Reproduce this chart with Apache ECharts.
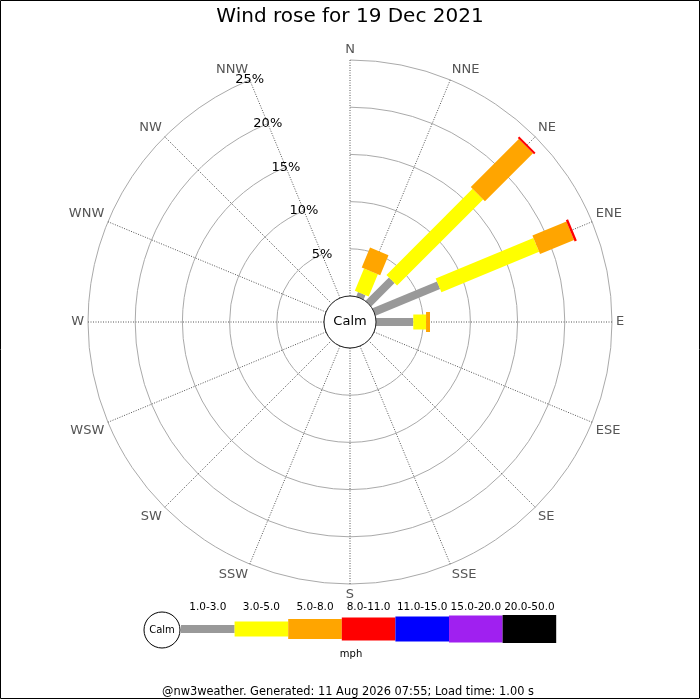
<!DOCTYPE html>
<html><head><meta charset="utf-8">
<script src="https://cdn.jsdelivr.net/npm/echarts@6/dist/echarts.min.js"></script>
<style>html,body{margin:0;padding:0;background:#fff}#c{width:700px;height:700px}</style>
</head><body><div id="c"></div>
<script>
// ---- data ----
const directions = ['N','NNE','NE','ENE','E','ESE','SE','SSE','S','SSW','SW','WSW','W','WNW','NW','NNW'];
const speedBands = ['1.0-3.0','3.0-5.0','5.0-8.0','8.0-11.0','11.0-15.0','15.0-20.0','20.0-50.0'];
const radialTicks = [0, 5, 10, 15, 20, 25];
// percent of the day, by direction (N..NNW), per speed band in mph
const band1to3   = [0, 0.5, 3.5, 7.4, 3.95, 0, 0, 0, 0, 0, 0, 0, 0, 0, 0, 0];
const band3to5   = [0, 2.55, 12.9, 11.2, 1.35, 0, 0, 0, 0, 0, 0, 0, 0, 0, 0, 0];
const band5to8   = [0, 2.3, 7.2, 3.9, 0.42, 0, 0, 0, 0, 0, 0, 0, 0, 0, 0, 0];
const band8to11  = [0, 0, 0.22, 0.25, 0, 0, 0, 0, 0, 0, 0, 0, 0, 0, 0, 0];
const band11to15 = [0, 0, 0, 0, 0, 0, 0, 0, 0, 0, 0, 0, 0, 0, 0, 0];
const band15to20 = [0, 0, 0, 0, 0, 0, 0, 0, 0, 0, 0, 0, 0, 0, 0, 0];
const band20to50 = [0, 0, 0, 0, 0, 0, 0, 0, 0, 0, 0, 0, 0, 0, 0, 0];
const titleText = 'Wind rose for 19 Dec 2021';
const unitText = 'mph';
const footerText = '@nw3weather. Generated: 11 Aug 2026 07:55; Load time: 1.00 s';

// ---- styles ----
const bandValues = [band1to3, band3to5, band5to8, band8to11, band11to15, band15to20, band20to50];
const bandColors = ['#999999', '#ffff00', '#ffa500', '#ff0000', '#0000ff', '#a020f0', '#000000'];
const bandWidths = [8, 15, 20, 23, 25, 27, 28];
const FONT = 'DejaVu Sans';
const CX = 350, CY = 322, R_IN = 26, R_OUT = 262;
const RMAX = radialTicks[radialTicks.length - 1];
const RSTEP = radialTicks[1] - radialTicks[0];

function makeRenderer(width, color) {
  return function (params, api) {
    const dir = api.value(0), r0 = api.value(1), r1 = api.value(2);
    const a = api.coord([r0, dir]);
    const b = api.coord([r1, dir]);
    const o = api.coord([0, dir]);
    const f = api.coord([RMAX, dir]);
    let ux = f[0] - o[0], uy = f[1] - o[1];
    const L = Math.hypot(ux, uy); ux /= L; uy /= L;
    const nx = -uy * width / 2, ny = ux * width / 2;
    return {
      type: 'polygon',
      shape: { points: [[a[0] + nx, a[1] + ny], [b[0] + nx, b[1] + ny], [b[0] - nx, b[1] - ny], [a[0] - nx, a[1] - ny]] },
      style: { fill: color }
    };
  };
}

const series = bandValues.map(function (vals, bi) {
  const data = [];
  vals.forEach(function (v, i) {
    let start = 0;
    for (let k = 0; k < bi; k++) start += bandValues[k][i];
    if (v > 0) data.push([i, start, start + v]);
  });
  return {
    type: 'custom', name: speedBands[bi], coordinateSystem: 'polar', polarIndex: 0,
    encode: { angle: 0, radius: [1, 2] },
    renderItem: makeRenderer(bandWidths[bi], bandColors[bi]),
    data: data, z: 3 + bi, silent: true
  };
});

// legend key (built from band arrays)
const legendEls = [];
const LX0 = 181, LW = 53.6, LY = 629;
speedBands.forEach(function (lab, i) {
  const h = bandWidths[i];
  legendEls.push({ type: 'rect', shape: { x: LX0 + i * LW, y: LY - h / 2, width: LW, height: h }, style: { fill: bandColors[i] }, z: 100 });
  legendEls.push({ type: 'text', x: LX0 + i * LW + LW / 2, y: 607, style: { text: lab, fill: '#000', font: '10.5px "' + FONT + '"', align: 'center', verticalAlign: 'middle' }, z: 100 });
});
legendEls.push({ type: 'circle', shape: { cx: 162, cy: 630, r: 18 }, style: { fill: '#fff', stroke: '#000', lineWidth: 1 }, z: 101 });
legendEls.push({ type: 'text', x: 162, y: 630, style: { text: 'Calm', fill: '#000', font: '10px "' + FONT + '"', align: 'center', verticalAlign: 'middle' }, z: 102 });
legendEls.push({ type: 'text', x: 351, y: 654, style: { text: unitText, fill: '#000', font: '10px "' + FONT + '"', align: 'center', verticalAlign: 'middle' }, z: 100 });

const chart = echarts.init(document.getElementById('c'), null, { renderer: 'canvas' });
chart.setOption({
  backgroundColor: '#fff',
  animation: false,
  textStyle: { fontFamily: FONT },
  polar: [
    { center: [CX, CY], radius: [R_IN, R_OUT] },
    { center: [CX, CY], radius: [R_IN, R_OUT] }
  ],
  angleAxis: [
    {
      polarIndex: 0, type: 'category', data: directions, startAngle: 90, clockwise: true, boundaryGap: false,
      axisLine: { show: false }, axisTick: { show: false },
      axisLabel: { show: true, color: '#555', fontSize: 13, margin: 4, fontFamily: FONT },
      splitLine: { show: true, lineStyle: { color: '#555', width: 1, type: [1, 1.5] } },
      splitArea: { show: false }
    },
    {
      polarIndex: 1, type: 'value', min: 0, max: 360, startAngle: 112.5, show: false
    }
  ],
  radiusAxis: [
    {
      polarIndex: 0, type: 'value', min: 0, max: RMAX, interval: RSTEP,
      axisLine: { show: false }, axisTick: { show: false }, axisLabel: { show: false },
      splitLine: { show: true, lineStyle: { color: '#aaa', width: 1 } }
    },
    {
      polarIndex: 1, type: 'value', min: 0, max: RMAX, interval: RSTEP,
      axisLine: { show: false }, axisTick: { show: false }, splitLine: { show: false },
      axisLabel: {
        show: true, margin: 0, align: 'center', verticalAlign: 'middle', color: '#000', fontSize: 13, fontFamily: FONT,
        formatter: function (v) { return v === 0 ? '' : v + '%'; }
      },
      z: 50
    }
  ],
  series: series,
  graphic: { elements: [
    { type: 'rect', shape: { x: 0.5, y: 0.5, width: 699, height: 698 }, style: { fill: 'none', stroke: '#000', lineWidth: 1 }, z: 200, silent: true },
    { type: 'text', x: 350, y: 17, style: { text: titleText, fill: '#000', font: '20px "' + FONT + '"', align: 'center', verticalAlign: 'middle' }, z: 100 },
    { type: 'circle', shape: { cx: CX, cy: CY, r: R_IN }, style: { fill: '#fff', stroke: '#222', lineWidth: 1 }, z: 100 },
    { type: 'text', x: CX, y: CY, style: { text: 'Calm', fill: '#000', font: '13px "' + FONT + '"', align: 'center', verticalAlign: 'middle' }, z: 101 },
    { type: 'text', x: 348, y: 692, style: { text: footerText, fill: '#000', font: '11.4px "' + FONT + '"', align: 'center', verticalAlign: 'middle' }, z: 100 }
  ].concat(legendEls) }
});
</script>
</body></html>
